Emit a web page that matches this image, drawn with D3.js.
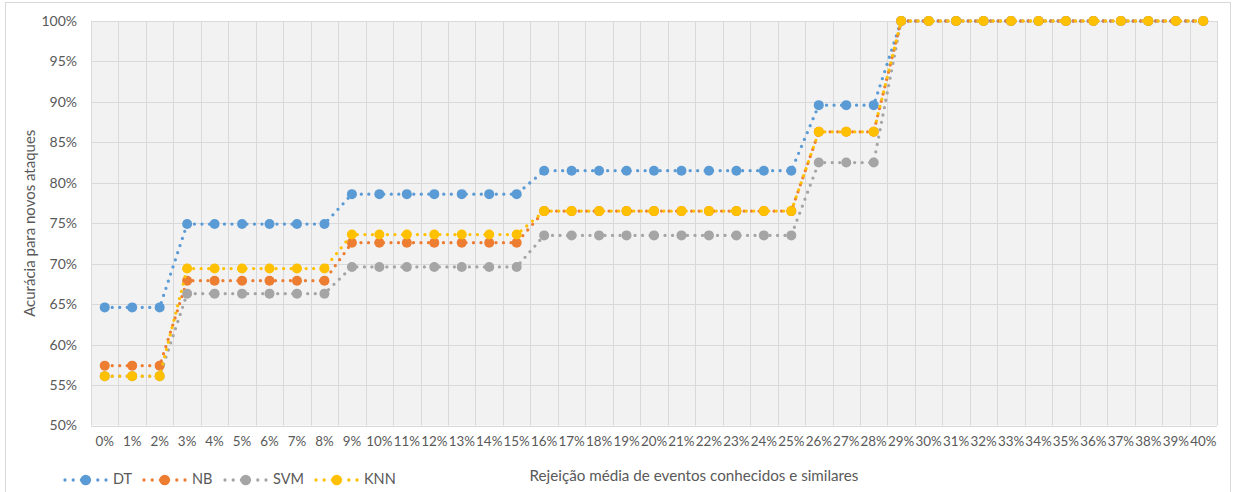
<!DOCTYPE html>
<html>
<head>
<meta charset="utf-8">
<script src="https://cdn.jsdelivr.net/npm/d3@7/dist/d3.min.js"></script>
<style>
  html, body { margin: 0; padding: 0; background: #ffffff; }
  svg { display: block; }
  text { font-family: "Lato", "Open Sans", "Liberation Sans", sans-serif; fill: #595959; }
</style>
</head>
<body>
<svg id="chart" width="1240" height="492"></svg>
<script>
// ---- data (values in %) ----
const categories = d3.range(0, 41).map(d => d + "%");
const dtValues  = [64.6,64.6,64.6, 74.9,74.9,74.9,74.9,74.9,74.9, 78.6,78.6,78.6,78.6,78.6,78.6,78.6,
                   81.5,81.5,81.5,81.5,81.5,81.5,81.5,81.5,81.5,81.5, 89.6,89.6,89.6,
                   100,100,100,100,100,100,100,100,100,100,100,100];
const nbValues  = [57.4,57.4,57.4, 67.9,67.9,67.9,67.9,67.9,67.9, 72.6,72.6,72.6,72.6,72.6,72.6,72.6,
                   76.5,76.5,76.5,76.5,76.5,76.5,76.5,76.5,76.5,76.5, 86.3,86.3,86.3,
                   100,100,100,100,100,100,100,100,100,100,100,100];
const svmValues = [56.1,56.1,56.1, 66.3,66.3,66.3,66.3,66.3,66.3, 69.6,69.6,69.6,69.6,69.6,69.6,69.6,
                   73.5,73.5,73.5,73.5,73.5,73.5,73.5,73.5,73.5,73.5, 82.5,82.5,82.5,
                   100,100,100,100,100,100,100,100,100,100,100,100];
const knnValues = [56.1,56.1,56.1, 69.4,69.4,69.4,69.4,69.4,69.4, 73.6,73.6,73.6,73.6,73.6,73.6,73.6,
                   76.5,76.5,76.5,76.5,76.5,76.5,76.5,76.5,76.5,76.5, 86.3,86.3,86.3,
                   100,100,100,100,100,100,100,100,100,100,100,100];
const seriesNames = ["DT", "NB", "SVM", "KNN"];
const seriesColors = ["#5B9BD5", "#ED7D31", "#A5A5A5", "#FFC000"];
const yTicks = [50, 55, 60, 65, 70, 75, 80, 85, 90, 95, 100];
const xTitle = "Rejeição média de eventos conhecidos e similares";
const yTitle = "Acurácia para novos ataques";

const series = [dtValues, nbValues, svmValues, knnValues].map((vals, i) => ({
  name: seriesNames[i], color: seriesColors[i], values: vals
}));

// ---- layout ----
const svg = d3.select("#chart");
const plot = { left: 91, right: 1217, top: 21, bottom: 425.5 };

svg.append("rect").attr("x", 0).attr("y", 0).attr("width", 1240).attr("height", 492).attr("fill", "#ffffff");
svg.append("rect").attr("x", 5.5).attr("y", 2.5).attr("width", 1225).attr("height", 500)
  .attr("fill", "none").attr("stroke", "#D9D9D9").attr("stroke-width", 1);

const x = d3.scaleBand().domain(categories).range([plot.left, plot.right]).padding(0);
const y = d3.scaleLinear().domain([50, 100]).range([plot.bottom, plot.top]);
const cx = c => x(c) + x.bandwidth() / 2;

// plot background
svg.append("rect").attr("x", plot.left).attr("y", plot.top)
  .attr("width", plot.right - plot.left).attr("height", plot.bottom - plot.top)
  .attr("fill", "#F2F2F2");

// gridlines
const grid = svg.append("g").attr("stroke", "#D9D9D9").attr("stroke-width", 1);
grid.selectAll("line.h").data(yTicks).join("line").attr("class", "h")
  .attr("x1", plot.left).attr("x2", plot.right)
  .attr("y1", d => Math.round(y(d)) + 0.5).attr("y2", d => Math.round(y(d)) + 0.5);
const bounds = categories.map(c => x(c)).concat([plot.right]);
grid.selectAll("line.v").data(bounds).join("line").attr("class", "v")
  .attr("y1", plot.top).attr("y2", plot.bottom)
  .attr("x1", d => Math.round(d) + 0.5).attr("x2", d => Math.round(d) + 0.5);

// y axis labels
const yAxis = d3.axisLeft(y).tickValues(yTicks).tickFormat(d => d + "%").tickSize(0).tickPadding(0);
const yg = svg.append("g").attr("transform", `translate(77,0)`).call(yAxis);
yg.select(".domain").remove();
yg.selectAll("text").attr("font-size", "14px").attr("fill", "#595959");

// x axis labels
const xAxis = d3.axisBottom(x).tickSize(0).tickPadding(0);
const xg = svg.append("g").attr("transform", `translate(0,436)`).call(xAxis);
xg.select(".domain").remove();
xg.selectAll("text").attr("font-size", "13.4px").attr("fill", "#595959");

svg.selectAll(".tick text").style("font-family", "Lato, 'Open Sans', sans-serif");

// lines and markers
const line = d3.line().x((d, i) => cx(categories[i])).y(d => y(d));
series.forEach(s => {
  const g = svg.append("g");
  g.append("path").datum(s.values).attr("d", line)
    .attr("fill", "none").attr("stroke", s.color).attr("stroke-width", 3.3)
    .attr("stroke-linecap", "round").attr("stroke-dasharray", "0 7.5");
  g.selectAll("circle").data(s.values).join("circle")
    .attr("cx", (d, i) => cx(categories[i])).attr("cy", d => y(d))
    .attr("r", 5).attr("fill", s.color);
});

// axis titles
svg.append("text").attr("x", 694).attr("y", 477).attr("text-anchor", "middle")
  .attr("dominant-baseline", "middle").attr("font-size", "15.2px").text(xTitle);
svg.append("text").attr("transform", `translate(31,${(plot.top + plot.bottom) / 2}) rotate(-90)`)
  .attr("text-anchor", "middle").attr("dominant-baseline", "middle")
  .attr("font-size", "15px").text(yTitle);

// legend
const legendX = [65, 144, 225, 316];
const leg = svg.selectAll("g.legend").data(series).join("g").attr("class", "legend")
  .attr("transform", (d, i) => `translate(${legendX[i]},480)`);
leg.append("line").attr("x1", 0).attr("x2", 41).attr("y1", 0).attr("y2", 0)
  .attr("stroke", d => d.color).attr("stroke-width", 3.3)
  .attr("stroke-linecap", "round").attr("stroke-dasharray", "0 8.2");
leg.append("circle").attr("cx", 20.7).attr("cy", 0).attr("r", 5.3).attr("fill", d => d.color);
leg.append("text").attr("x", 48).attr("y", 0).attr("dominant-baseline", "middle")
  .attr("font-size", "14.5px").text(d => d.name);
</script>
</body>
</html>
